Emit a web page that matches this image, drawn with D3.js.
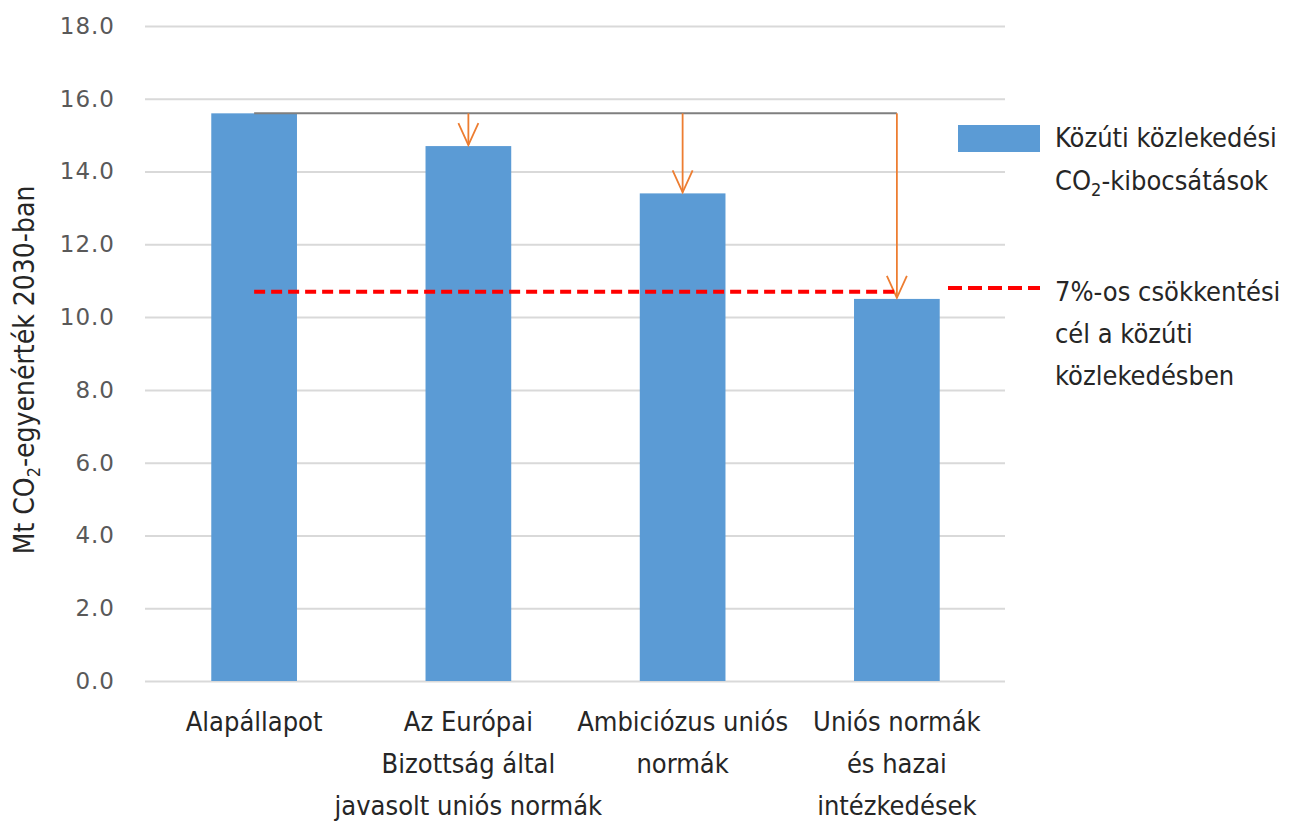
<!DOCTYPE html>
<html>
<head>
<meta charset="utf-8">
<script src="https://cdn.jsdelivr.net/npm/d3@7"></script>
<style>
  html, body { margin: 0; padding: 0; background: #fff; }
  svg { display: block; }
  .lbl { font-family: "Ubuntu Condensed", "Liberation Sans Narrow", "DejaVu Sans Condensed", "Noto Sans", sans-serif; font-stretch: condensed; fill: #262626; }
  .tick text { font-family: "DejaVu Sans", Verdana, sans-serif; fill: #595959; letter-spacing: 1px; }
</style>
</head>
<body>
<svg id="chart" width="1289" height="823"></svg>
<script>
// Scenarios and road-transport CO2 emissions in 2030 (Mt CO2-eq)
const categories = [
  ["Alapállapot"],
  ["Az Európai", "Bizottság által", "javasolt uniós normák"],
  ["Ambiciózus uniós", "normák"],
  ["Uniós normák", "és hazai", "intézkedések"]
];
const emissions = [15.6, 14.7, 13.4, 10.5];
const targetValue = 10.7;
const yTicks = [0, 2, 4, 6, 8, 10, 12, 14, 16, 18];
const seriesName = ["Közúti közlekedési", ["CO", "2", "-kibocsátások"]];
const targetName = ["7%-os csökkentési", "cél a közúti", "közlekedésben"];
const yTitle = ["Mt CO", "2", "-egyenérték 2030-ban"];

const svg = d3.select("#chart");
const keys = categories.map((c, i) => "c" + i);

const y = d3.scaleLinear().domain([0, 18]).range([681, 26]);
const x = d3.scaleBand().domain(keys).range([147, 1004]).paddingInner(0.6).paddingOuter(0.3);

// gridlines + tick labels
const yAxis = svg.append("g")
  .attr("transform", "translate(145,0)")
  .call(d3.axisLeft(y).tickValues(yTicks).tickFormat(d3.format(".1f")).tickSize(-860).tickPadding(30));
yAxis.select(".domain").remove();
yAxis.selectAll(".tick line").attr("stroke", "#d9d9d9").attr("stroke-width", 2);
yAxis.selectAll(".tick text").attr("font-size", 23);

// bars
svg.append("g").selectAll("rect").data(emissions).join("rect")
  .attr("x", (d, i) => x(keys[i]))
  .attr("width", x.bandwidth())
  .attr("y", d => y(d))
  .attr("height", d => y(0) - y(d))
  .attr("fill", "#5b9bd5");

const cx = i => x(keys[i]) + x.bandwidth() / 2;

// baseline connector
svg.append("line")
  .attr("x1", cx(0)).attr("x2", cx(emissions.length - 1))
  .attr("y1", y(emissions[0])).attr("y2", y(emissions[0]))
  .attr("stroke", "#7f7f7f").attr("stroke-width", 2);

// reduction arrows
const arrows = svg.append("g").attr("stroke", "#ed7d31").attr("fill", "none").attr("stroke-width", 1.8);
emissions.slice(1).forEach((v, k) => {
  const i = k + 1, px = cx(i), top = y(emissions[0]), tip = y(v) - 1;
  arrows.append("line").attr("x1", px).attr("x2", px).attr("y1", top).attr("y2", tip);
  arrows.append("path").attr("d", `M${px - 10},${tip - 22}L${px},${tip}L${px + 10},${tip - 22}`);
});

// target line
svg.append("line")
  .attr("x1", cx(0)).attr("x2", cx(emissions.length - 1))
  .attr("y1", y(targetValue)).attr("y2", y(targetValue))
  .attr("stroke", "#ff0000").attr("stroke-width", 4).attr("stroke-dasharray", "11,6");

// category labels
const catG = svg.append("g");
categories.forEach((lines, i) => {
  const t = catG.append("text").attr("class", "lbl").attr("text-anchor", "middle").attr("font-size", 27);
  lines.forEach((s, j) => t.append("tspan").attr("x", cx(i)).attr("y", 731 + j * 42).text(s));
});

// y-axis title (rotated)
const yt = svg.append("text").attr("class", "lbl").attr("font-size", 28)
  .attr("text-anchor", "middle")
  .attr("transform", "translate(34,370) rotate(-90)");
yt.append("tspan").text(yTitle[0]);
yt.append("tspan").attr("font-size", 18).attr("dy", 6).text(yTitle[1]);
yt.append("tspan").attr("dy", -6).text(yTitle[2]);

// legend
const lg = svg.append("g");
lg.append("rect").attr("x", 958).attr("y", 125).attr("width", 82).attr("height", 27).attr("fill", "#5b9bd5");
lg.append("text").attr("class", "lbl").attr("font-size", 27).attr("x", 1055).attr("y", 147).text(seriesName[0]);
const l2 = lg.append("text").attr("class", "lbl").attr("font-size", 27).attr("x", 1055).attr("y", 190);
l2.append("tspan").text(seriesName[1][0]);
l2.append("tspan").attr("font-size", 18).attr("dy", 6).text(seriesName[1][1]);
l2.append("tspan").attr("dy", -6).text(seriesName[1][2]);

lg.append("line").attr("x1", 948).attr("x2", 1040).attr("y1", 288).attr("y2", 288)
  .attr("stroke", "#ff0000").attr("stroke-width", 4).attr("stroke-dasharray", "14,6");
const l3 = lg.append("text").attr("class", "lbl").attr("font-size", 27);
targetName.forEach((s, j) => l3.append("tspan").attr("x", 1055).attr("y", 301 + j * 42).text(s));
</script>
</body>
</html>
